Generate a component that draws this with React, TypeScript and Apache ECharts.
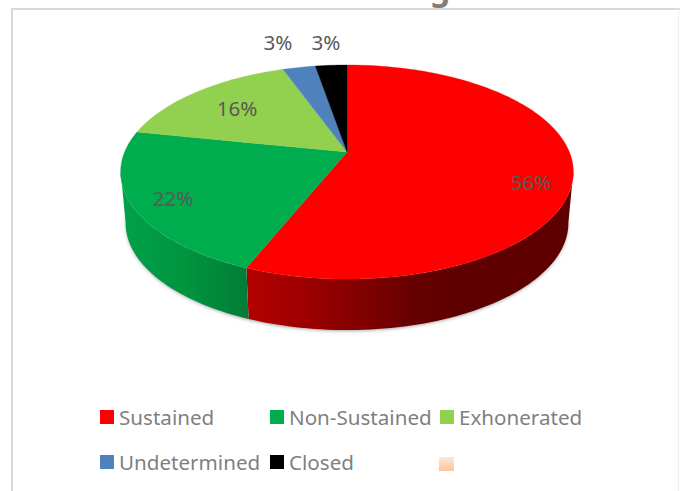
import React, { useEffect, useRef } from "react";
import * as echarts from "echarts";

const categories = ["Sustained", "Non-Sustained", "Exhonerated", "Undetermined", "Closed"];
const values = [56.1, 22.1, 16.3, 2.8, 2.7];
const colors = ["#ff0000", "#00ad4e", "#92d050", "#4f81bd", "#000000"];
const titleFragment = "g";

// layout
const APEX_X = 347, APEX_Y = 152, SX = 222.4, SY = 103.3, PERSP = 0.187, DEPTH = 51, BOTTOM_SCALE = 0.978;
const WALL_FROM = 100.4, WALL_TO = 259.6;
const LABEL_POS: [number, number][] = [[531, 182], [173, 198], [237, 108], [278, 42], [326, 42]];
const LEGEND_POS: [number, number][] = [[100, 406.5], [270, 406.5], [440, 406.5], [100, 451.5], [270, 451.5]];
const WALL_STOPS: Record<number, { x0: number; x1: number; stops: [number, string][] }> = {
  0: { x0: 247, x1: 460, stops: [[0, "#b30000"], [0.25, "#9f0000"], [0.5, "#850000"], [0.8, "#650000"], [1, "#5e0000"]] },
  1: { x0: 122, x1: 248, stops: [[0, "#00a04a"], [0.5, "#00953f"], [1, "#007c36"]] },
};

const total = values.reduce((a, b) => a + b, 0);
const project = (deg: number, bottom = false): [number, number] => {
  const t = (deg * Math.PI) / 180;
  const u = Math.sin(t), v = -Math.cos(t), d = 1 - PERSP * v;
  const k = bottom ? BOTTOM_SCALE : 1;
  return [APEX_X + (k * SX * u) / d, APEX_Y + (bottom ? DEPTH : 0) + (SY * v) / d];
};
const sample = (a: number, b: number, bottom = false) => {
  const pts: [number, number][] = [];
  const n = Math.max(2, Math.ceil((b - a) / 1.5));
  for (let i = 0; i <= n; i++) pts.push(project(a + ((b - a) * i) / n, bottom));
  return pts;
};

export default function App() {
  const ref = useRef<HTMLDivElement>(null);
  useEffect(() => {
    document.body.style.margin = "0";
    const chart = echarts.init(ref.current!, undefined, { renderer: "svg" });
    let acc = 0;
    const series = categories.map((name, i) => {
      const start = (acc / total) * 360;
      acc += values[i];
      const end = (acc / total) * 360;
      return {
        type: "custom",
        name,
        coordinateSystem: "none",
        z: 3,
        silent: true,
        itemStyle: { color: colors[i] },
        data: [[start, end, values[i]]],
        renderItem: (_p: any, api: any) => {
          const a = api.value(0), b = api.value(1);
          const children: any[] = [];
          const wa = Math.max(a, WALL_FROM), wb = Math.min(b, WALL_TO);
          if (wb > wa && WALL_STOPS[i]) {
            const g = WALL_STOPS[i];
            const fill = new echarts.graphic.LinearGradient(
              g.x0, 0, g.x1, 0,
              g.stops.map(([offset, color]) => ({ offset, color })),
              true
            );
            children.push({
              type: "polygon",
              shape: { points: [...sample(wa, wb), ...sample(wa, wb, true).reverse()] },
              style: { fill },
            });
          }
          children.push({
            type: "polygon",
            shape: { points: [[APEX_X, APEX_Y], ...sample(a, b)] },
            style: { fill: colors[i], stroke: colors[i], lineWidth: 0.3 },
          });
          return { type: "group", children };
        },
      };
    });
    const labelSeries = {
      type: "custom",
      name: "labels",
      coordinateSystem: "none",
      z: 5,
      silent: true,
      data: values.map((v, i) => [i, v]),
      renderItem: (_p: any, api: any) => {
        const i = api.value(0);
        return {
          type: "text",
          x: LABEL_POS[i][0],
          y: LABEL_POS[i][1],
          style: {
            text: `${Math.round(api.value(1))}%`,
            fill: "#595959",
            font: "20.6px 'Noto Sans'",
            align: "center",
            verticalAlign: "middle",
          },
        };
      },
    };
    chart.setOption({
      animation: false,
      backgroundColor: "#ffffff",
      legend: categories.map((name, i) => ({
        show: true,
        data: [{ name, icon: "rect", itemStyle: { color: colors[i] } }],
        left: LEGEND_POS[i][0],
        top: LEGEND_POS[i][1],
        padding: 0,
        itemWidth: 14,
        itemHeight: 14,
        itemGap: 0,
        selectedMode: false,
        textStyle: { color: "#7f7f7f", fontSize: 20.6, fontFamily: "Noto Sans", padding: [0, 0, 3, 0] },
      })),
      graphic: [
        { type: "text", z: 0, x: 440, y: -13, style: { text: titleFragment, fill: "#7f7f7f", font: "bold 32px 'Noto Sans'", align: "center", verticalAlign: "middle" } },
        { type: "line", z: 0, shape: { x1: 11, y1: 9, x2: 680, y2: 9 }, style: { stroke: "#d9d9d9", lineWidth: 2 } },
        { type: "line", z: 0, shape: { x1: 12, y1: 9, x2: 12, y2: 491 }, style: { stroke: "#d9d9d9", lineWidth: 2 } },
        { type: "line", z: 0, shape: { x1: 678.5, y1: 9, x2: 678.5, y2: 491 }, style: { stroke: "#eeeeee", lineWidth: 1 } },
        {
          type: "ellipse", z: 1,
          shape: { cx: APEX_X, cy: 222, rx: 220, ry: 106 },
          style: { fill: "#ffffff", shadowBlur: 4, shadowColor: "rgba(0,0,0,0.55)", shadowOffsetY: 2 },
        },
        {
          type: "rect", z: 1,
          shape: { x: 439, y: 457, width: 15, height: 14 },
          style: {
            fill: new echarts.graphic.LinearGradient(0, 0, 0, 1, [
              { offset: 0, color: "#fde9d9" },
              { offset: 1, color: "#fcc39a" },
            ]),
          },
        },
      ],
      series: [...series, labelSeries],
    });
    return () => chart.dispose();
  }, []);
  return <div ref={ref} style={{ position: "absolute", left: 0, top: 0, width: 680, height: 491 }} />;
}
